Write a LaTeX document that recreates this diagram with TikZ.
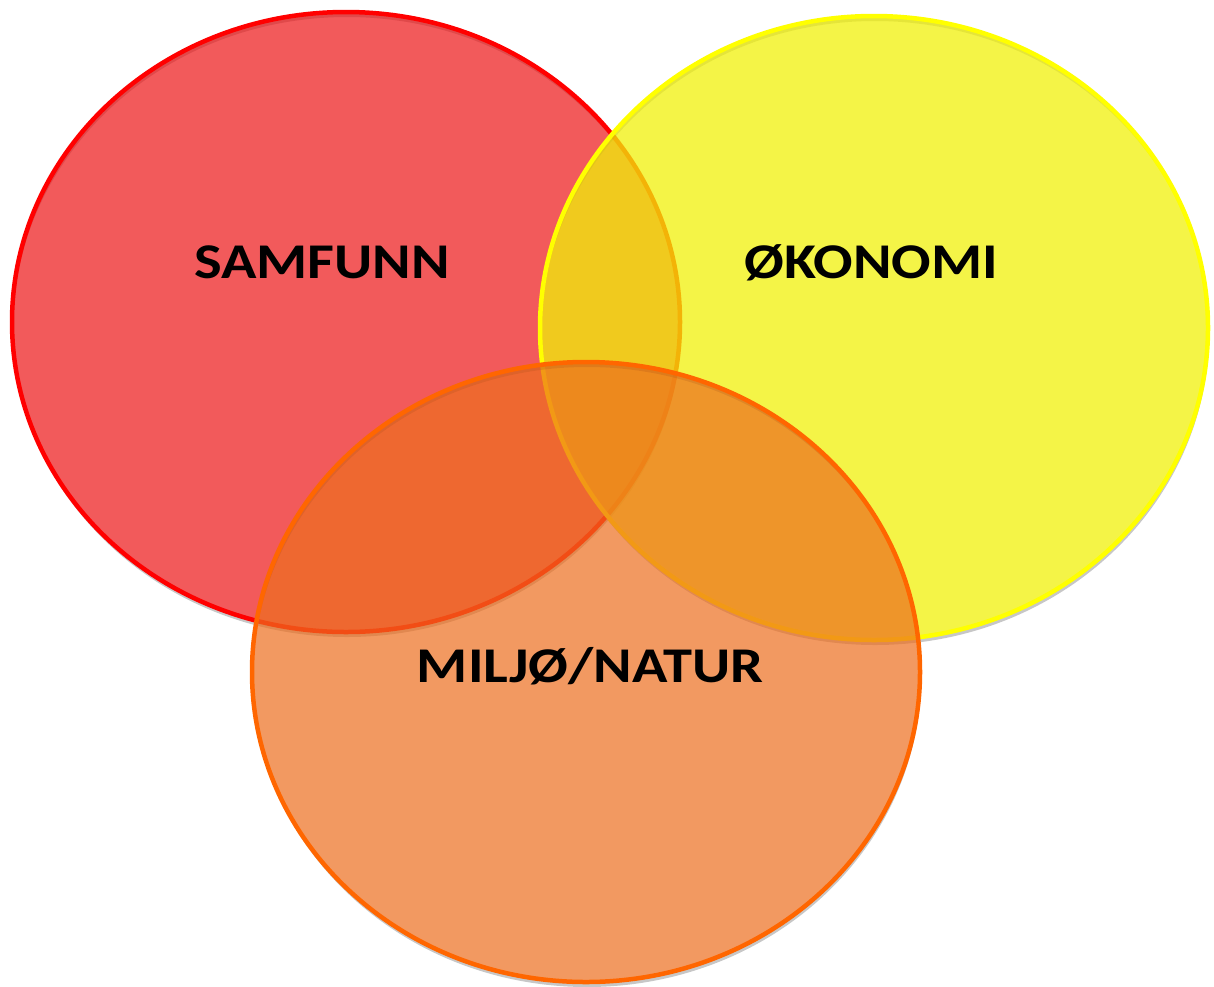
\documentclass[tikz,border=0pt]{standalone}
\usepackage{fontspec}
\setmainfont{Carlito}
\usetikzlibrary{shapes.geometric}
\definecolor{redfill}{RGB}{236,20,22}
\definecolor{yelfill}{RGB}{240,240,10}
\definecolor{orafill}{RGB}{237,110,30}
\definecolor{redline}{RGB}{255,0,0}
\definecolor{yelline}{RGB}{255,255,0}
\definecolor{oraline}{RGB}{255,102,0}
\tikzset{
  set/.style={ellipse, inner sep=0pt, outer sep=0pt, minimum width=668pt, minimum height=620pt, line width=4.5pt},
  shadowfill/.style={fill=black, fill opacity=0.22, even odd rule},
  lab/.style={font=\fontsize{50}{50}\selectfont\bfseries, text=black, inner sep=0pt, anchor=base, xscale=1.17}
}
\begin{document}
\begin{tikzpicture}[x=1pt,y=-1pt]
\useasboundingbox (0,0) rectangle (1214,986);
% SAMFUNN
\fill[shadowfill] (347,327) ellipse (334 and 310) (346,322) ellipse (334 and 310);
\node[set, fill=redfill, fill opacity=0.7, draw=redline] (samfunn) at (346,322) {};
% OKONOMI
\fill[shadowfill] (875,333) ellipse (334 and 312) (874,328) ellipse (334 and 312);
\node[set, minimum height=624pt, fill=yelfill, fill opacity=0.75, draw=yelline] (okonomi) at (874,328) {};
% MILJO
\fill[shadowfill] (587,677) ellipse (334 and 310) (586,672) ellipse (334 and 310);
\node[set, fill=orafill, fill opacity=0.7, draw=oraline] (miljo) at (586,672) {};
% labels
\node[lab] (tsamfunn) at (322,278) {SAMFUNN};
\node[lab] (tokonomi) at (871,278) {ØKONOMI};
\node[lab] (tmiljo) at (590,682) {MILJØ/NATUR};
\end{tikzpicture}
\end{document}
